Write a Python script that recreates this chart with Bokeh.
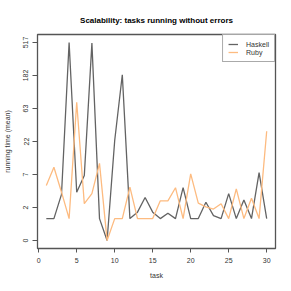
import numpy as np
from bokeh.plotting import figure
from bokeh.models import FixedTicker, Range1d, Legend, LegendItem
from bokeh.embed import file_html
from bokeh.resources import INLINE

# Data: mean running time per task
tasks = list(range(1, 31))
haskell = [1, 1, 3.3, 517, 3.6, 6.8, 506, 1, 0, 22.5, 186, 1, 1.45, 2.9, 1.45,
           1, 1.37, 1, 4.3, 1, 1, 2.35, 1.2, 1, 3.4, 1, 2.6, 1, 7.5, 1]
ruby = [4.7, 9.1, 3.6, 1, 77.6, 2.2, 3.4, 10.4, 0, 1, 1, 4.4, 1, 1, 1,
        2.5, 2.5, 4.3, 1, 7.2, 2.25, 1.9, 1.7, 2.2, 1, 4.1, 1, 2.8, 1, 30.4]
y_tick_labels = ["0", "2", "7", "22", "63", "182", "517"]
x_ticks = [0, 5, 10, 15, 20, 25, 30]

FONT = "Liberation Sans"

h_y = np.log1p(haskell)
r_y = np.log1p(ruby)
ymax = float(np.log1p(max(haskell)))
y_ticks = list(np.linspace(0, ymax, len(y_tick_labels)))

xr = Range1d(1 - 0.04 * 29, 30 + 0.04 * 29)
yr = Range1d(-0.04 * ymax, ymax * 1.04)

p = figure(width=291, height=291, x_range=xr, y_range=yr,
           output_backend="svg", toolbar_location=None,
           min_border_left=34, min_border_right=16, min_border_top=34,
           min_border_bottom=43)

p.title.text = "Scalability: tasks running without errors"
p.title.align = "center"
p.title.text_font = FONT
p.title.text_font_size = "8px"
p.title.text_font_style = "bold"
p.title.text_color = "#000000"
p.title.standoff = 20

p.grid.visible = False
p.outline_line_color = "#555555"
p.outline_line_width = 1.3

for ax in (p.xaxis[0], p.yaxis[0]):
    ax.axis_line_color = None
    ax.major_tick_line_color = "#555555"
    ax.major_tick_in = 0
    ax.major_tick_out = 4
    ax.minor_tick_line_color = None
    ax.major_label_text_font = FONT
    ax.major_label_text_font_size = "7px"
    ax.major_label_text_color = "#333333"
    ax.axis_label_text_font = FONT
    ax.axis_label_text_font_size = "7px"
    ax.axis_label_text_font_style = "normal"
    ax.axis_label_text_color = "#333333"

p.xaxis.ticker = FixedTicker(ticks=x_ticks)
p.xaxis.axis_label = "task"
p.xaxis.major_label_standoff = 5
p.xaxis.axis_label_standoff = 6

p.yaxis.ticker = FixedTicker(ticks=y_ticks)
p.yaxis.major_label_overrides = {t: l for t, l in zip(y_ticks, y_tick_labels)}
p.yaxis.major_label_orientation = "vertical"
p.yaxis.major_tick_out = 5
p.yaxis.axis_label = "running time (mean)"
p.yaxis.major_label_standoff = 4
p.yaxis.axis_label_standoff = 10

lh = p.line(tasks, h_y, line_color="#636363", line_width=1.3)
lr = p.line(tasks, r_y, line_color="#fdbb80", line_width=1.3)

legend = Legend(items=[LegendItem(label="Haskell", renderers=[lh]),
                       LegendItem(label="Ruby", renderers=[lr])],
                location="top_right")
legend.margin = 0
legend.padding = 5
legend.spacing = 0
legend.glyph_height = 8
legend.glyph_width = 10
legend.label_height = 8
legend.label_standoff = 8
legend.label_text_font = FONT
legend.label_text_font_size = "7px"
legend.label_text_color = "#333333"
legend.border_line_color = "#555555"
legend.border_line_width = 1.2
p.add_layout(legend)

open("out.html", "w").write(file_html(p, INLINE))
